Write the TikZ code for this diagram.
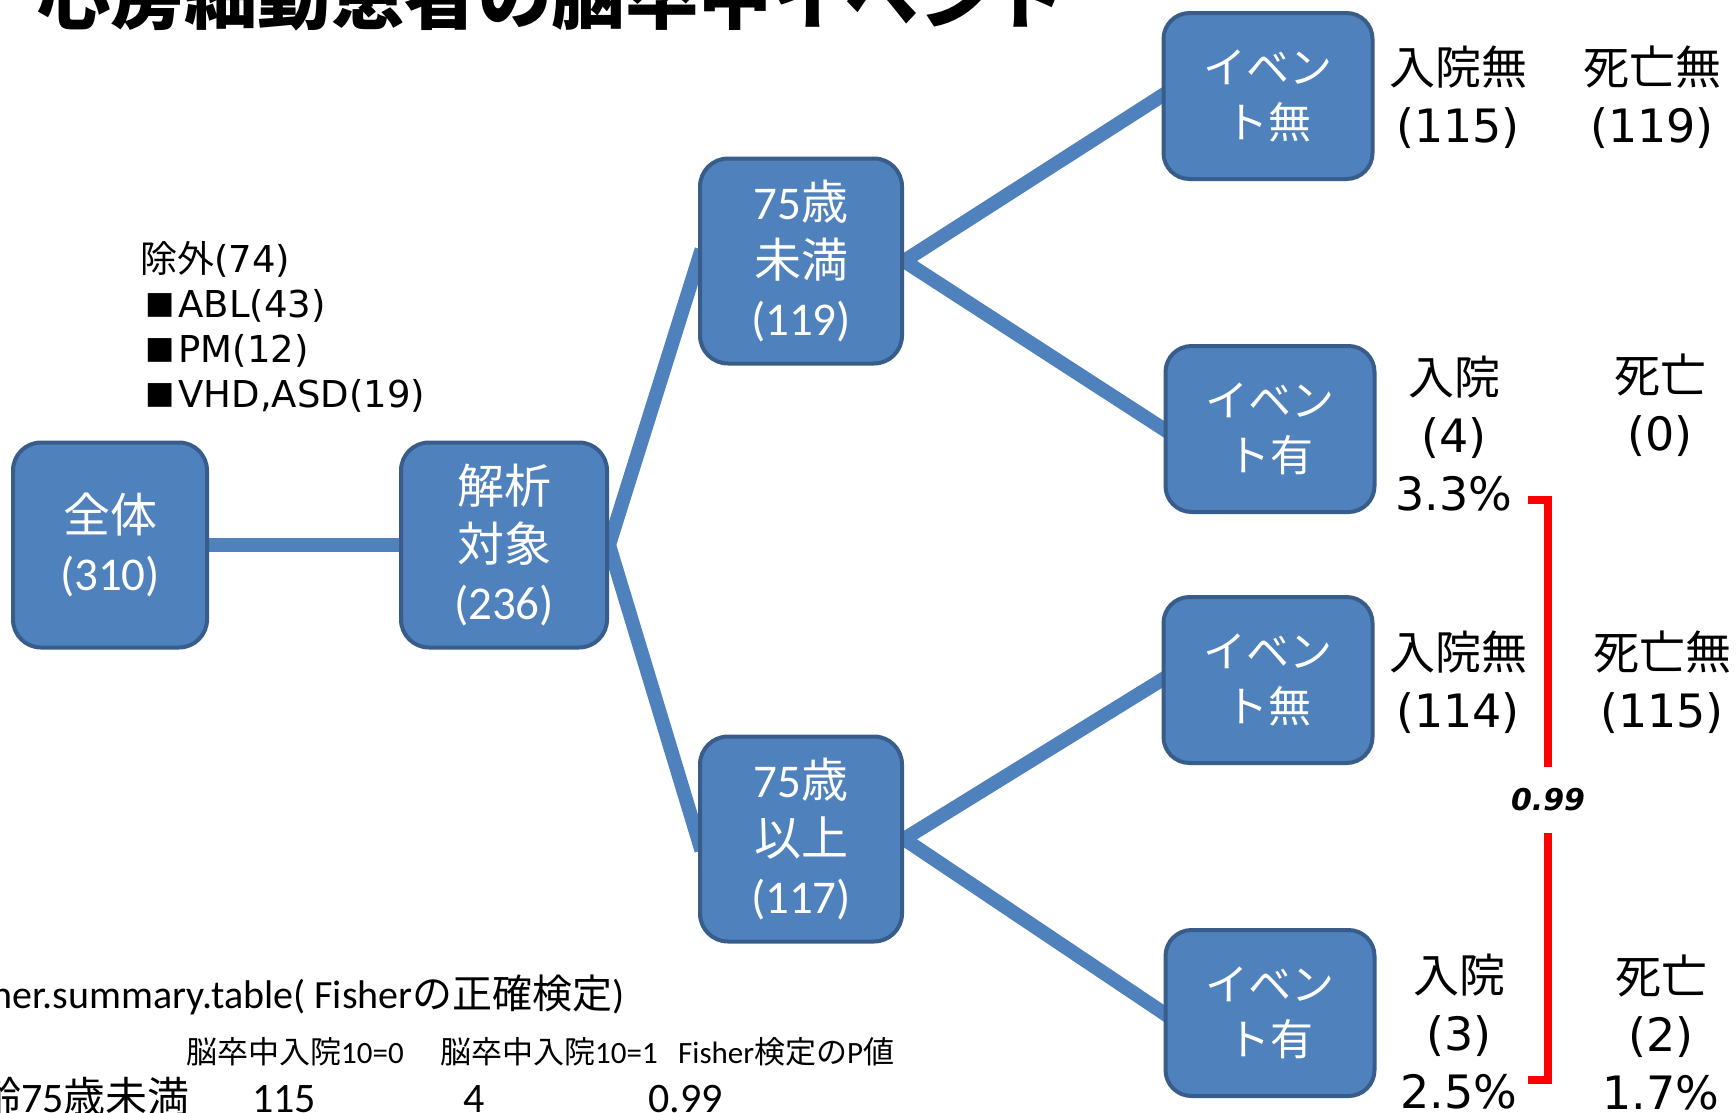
\documentclass[tikz,border=0pt]{standalone}
\usepackage{fontspec}
\setmainfont{DejaVu Sans}
\newfontfamily\jp{Noto Sans CJK JP}
\newfontfamily\calfont{Carlito}
\usetikzlibrary{backgrounds}
\definecolor{boxblue}{HTML}{4F81BD}
\definecolor{boxedge}{HTML}{385D8A}
\definecolor{linkblue}{HTML}{4F81BD}
\newcommand\J[1]{{\jp #1}}
\newcommand\sq{\hspace{5pt}\raisebox{4pt}{\fontsize{31}{31}\selectfont ■}\hspace{4pt}}
\begin{document}
\begin{tikzpicture}[x=1pt,y=-1pt,
  bigbox/.style={rounded corners=28pt, fill=boxblue, draw=boxedge, line width=4pt, text=white, align=center, inner sep=0pt, minimum height=205pt, font=\calfont\fontsize{47}{58}\selectfont},
  evbox/.style={rounded corners=26pt, fill=boxblue, draw=boxedge, line width=4pt, text=white, align=center, inner sep=0pt, minimum width=209pt, minimum height=166pt, font=\jp\fontsize{43}{55}\selectfont},
  conn/.style={draw=linkblue, line width=14pt, shorten <=-12pt, shorten >=-12pt},
  lab/.style={align=center, inner sep=0pt, font=\fontsize{46}{58}\selectfont},
  excl/.style={align=left, anchor=west, inner sep=0pt, font=\fontsize{37}{45}\selectfont},
  bracket/.style={draw=red, line width=8pt},
  tabtext/.style={inner sep=0pt, font=\calfont\fontsize{31}{36}\selectfont},
  rowtext/.style={inner sep=0pt, font=\calfont\fontsize{42}{48}\selectfont},
]
\useasboundingbox (0,0) rectangle (1736,1112);

% title (cut off at top)
\node[anchor=base west, inner sep=0pt, font=\jp\bfseries\fontsize{73.5}{80}\selectfont] (title) at (37,23) {心房細動患者の脳卒中イベント};

% main boxes
\node[bigbox, minimum width=194pt] (all) at (110,545) {\J{全体}\\(310)};
\node[bigbox, minimum width=206pt] (ana) at (504,545) {\J{解析}\\\J{対象}\\(236)};
\node[bigbox, minimum width=202pt] (u75) at (801,261) {75\J{歳}\\\J{未満}\\(119)};
\node[bigbox, minimum width=202pt] (o75) at (801,839) {75\J{歳}\\\J{以上}\\(117)};
\node[evbox] (e1) at (1268,96) {イベン\\ト無};
\node[evbox] (e2) at (1270,429) {イベン\\ト有};
\node[evbox] (e3) at (1268,680) {イベン\\ト無};
\node[evbox] (e4) at (1270,1013) {イベン\\ト有};

% connectors
\begin{scope}[on background layer]
\fill[white] (0,0) rectangle (1736,1112);
\draw[conn] (all.east) -- (ana.west);
\draw[conn] (ana.east) -- (u75.west);
\draw[conn] (ana.east) -- (o75.west);
\draw[conn] (u75.east) -- (e1.west);
\draw[conn] (u75.east) -- (e2.west);
\draw[conn] (o75.east) -- (e3.west);
\draw[conn] (o75.east) -- (e4.west);
\end{scope}

% exclusions
\node[excl] (ex) at (140,327) {\J{除外}(74)\\\sq ABL(43)\\\sq PM(12)\\\sq VHD,ASD(19)};

% outcome labels
\node[lab] (l1a) at (1458,97) {\J{入院無}\\(115)};
\node[lab] (l1b) at (1652,97) {\J{死亡無}\\(119)};
\node[lab] (l2a) at (1454,434) {\J{入院}\\(4)\\3.3\%};
\node[lab] (l2b) at (1660,405) {\J{死亡}\\(0)};
\node[lab] (l3a) at (1458,682) {\J{入院無}\\(114)};
\node[lab] (l3b) at (1662,682) {\J{死亡無}\\(115)};
\node[lab] (l4a) at (1459,1032) {\J{入院}\\(3)\\2.5\%};
\node[lab] (l4b) at (1661,1032) {\J{死亡}\\(2)\\1.7\%};

% p-value bracket
\node[inner sep=0pt, font=\bfseries\itshape\fontsize{30}{34}\selectfont] (pval) at (1548,800) {0.99};
\coordinate (b1) at (1528,500);
\coordinate (b2) at (1548,767);
\coordinate (b3) at (1548,833);
\coordinate (b4) at (1528,1080);
\draw[bracket] (b1) -| (b2);
\draw[bracket] (b3) |- (b4);

% bottom table (cut off)
\node[anchor=base east, inner sep=0pt, font=\calfont\fontsize{40}{44}\selectfont] (fs) at (625,1008) {Fisher.summary.table( Fisher\J{の正確検定})};
\node[tabtext, anchor=base west] (h1) at (186,1063) {\J{脳卒中入院}10=0};
\node[tabtext, anchor=base west] (h2) at (440,1063) {\J{脳卒中入院}10=1};
\node[tabtext, anchor=base west] (h3) at (678,1063) {Fisher\J{検定の}P\J{値}};
\node[rowtext, anchor=base east] (r0) at (190,1112) {\J{年齢}75\J{歳未満}};
\node[rowtext, anchor=base west] (r1) at (252,1112) {115};
\node[rowtext, anchor=base west] (r2) at (463,1112) {4};
\node[rowtext, anchor=base west] (r3) at (648,1112) {0.99};
\end{tikzpicture}
\end{document}
